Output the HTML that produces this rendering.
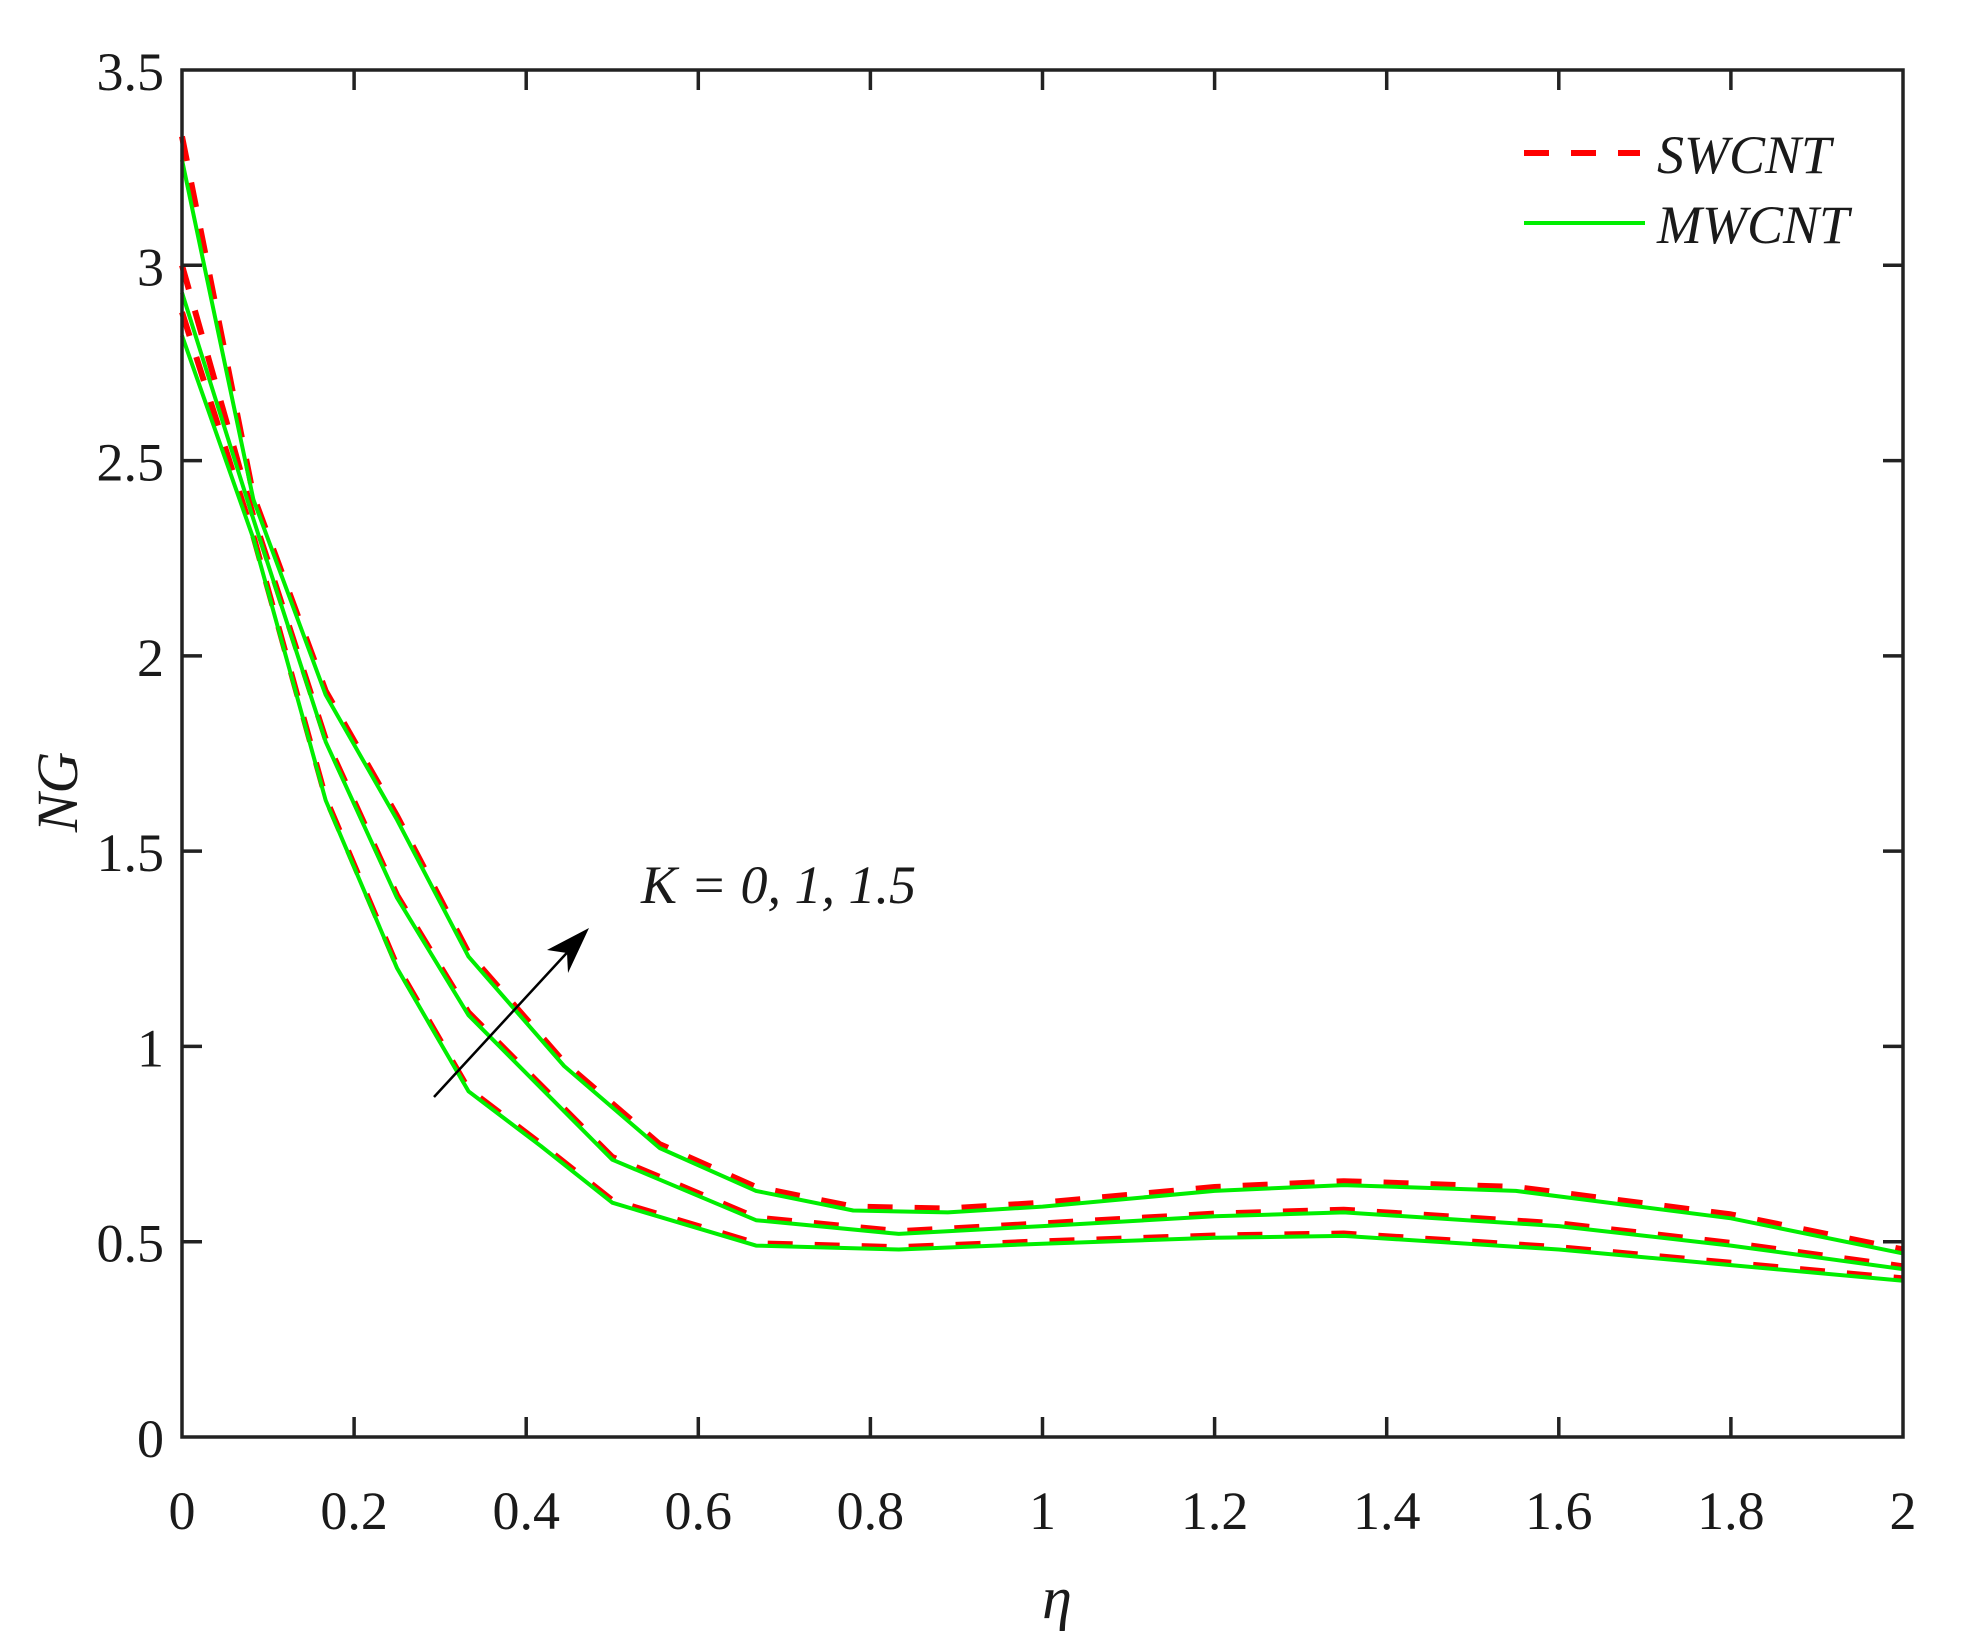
<!DOCTYPE html>
<html><head><meta charset="utf-8"><style>
html,body{margin:0;padding:0;background:#fff;}
svg text{font-family:"Liberation Serif",serif;fill:#1a1a1a;}
</style></head><body>
<svg id="s" width="1964" height="1640" xmlns="http://www.w3.org/2000/svg">
<rect width="1964" height="1640" fill="#fff"/>
<g id="curves"></g>
<g id="axes" stroke="#222" stroke-width="3.5" fill="none"></g>
<g id="labels" font-size="54"></g>
<text x="57" y="792" font-size="58" font-style="italic" text-anchor="middle" transform="rotate(-90 57 792)" dy="20">NG</text>
<text x="1057" y="1618" font-size="60" font-style="italic" text-anchor="middle">η</text>
<line x1="1524" y1="153" x2="1640" y2="153" stroke="#ff0000" stroke-width="6" stroke-dasharray="25,22"/>
<line x1="1524" y1="223" x2="1645" y2="223" stroke="#00ee00" stroke-width="4"/>
<text x="1657" y="173" font-size="54" font-style="italic">SWCNT</text>
<text x="1657" y="243" font-size="54" font-style="italic">MWCNT</text>
<text x="641" y="903" font-size="54" font-style="italic">K = 0, 1, 1.5</text>
<line x1="434" y1="1097" x2="575" y2="944" stroke="#000" stroke-width="2.5"/>
<polygon points="589,928 568,973 567,953 547,950" fill="#000"/>
</svg>
<script>
var X0=182,X1=1903,Y0=1437,Y1=70;
function px(x){return X0+x*(X1-X0)/2;}
function py(y){return Y0-y*(Y0-Y1)/3.5;}
var ns="http://www.w3.org/2000/svg";
function el(t,a,p){var e=document.createElementNS(ns,t);for(var k in a)e.setAttribute(k,a[k]);p.appendChild(e);return e;}
var mw0=[[0,2.82],[0.083,2.30],[0.167,1.63],[0.25,1.20],[0.333,0.885],[0.417,0.745],[0.5,0.60],[0.667,0.49],[0.833,0.48],[1,0.495],[1.2,0.51],[1.35,0.515],[1.6,0.48],[1.8,0.44],[2,0.40]];
var mw1=[[0,2.93],[0.083,2.35],[0.167,1.78],[0.25,1.38],[0.333,1.08],[0.5,0.71],[0.667,0.555],[0.833,0.52],[1,0.54],[1.2,0.565],[1.35,0.575],[1.6,0.54],[1.8,0.49],[2,0.43]];
var mw2=[[0,3.27],[0.083,2.40],[0.167,1.90],[0.25,1.58],[0.333,1.23],[0.444,0.95],[0.555,0.74],[0.667,0.63],[0.78,0.58],[0.89,0.575],[1,0.59],[1.2,0.63],[1.35,0.645],[1.55,0.63],[1.8,0.56],[2,0.47]];
function sw(a,s0,off){return a.map(function(p,i){return [p[0], i==0?s0:p[1]+off];});}
var g=document.getElementById('curves');
function pl(a,c,w,d){var s=a.map(function(p){return px(p[0]).toFixed(1)+','+py(p[1]).toFixed(1);}).join(' ');var o={points:s,fill:'none',stroke:c,'stroke-width':w,'stroke-linejoin':'round'};if(d)o['stroke-dasharray']=d;el('polyline',o,g);}
[[mw0,2.88,0.006],[mw1,3.0,0.007],[mw2,3.33,0.01]].forEach(function(c){pl(sw(c[0],c[1],c[2]),'#ff0000',6,'25,22');});
[mw0,mw1,mw2].forEach(function(c){pl(c,'#00ee00',4);});
var ax=document.getElementById('axes');
el('rect',{x:X0,y:Y1,width:X1-X0,height:Y0-Y1},ax);
var lb=document.getElementById('labels');
for(var i=0;i<=10;i++){var x=px(i*0.2);if(i>0&&i<10){el('line',{x1:x,y1:Y0,x2:x,y2:Y0-20},ax);el('line',{x1:x,y1:Y1,x2:x,y2:Y1+20},ax);}
var t=el('text',{x:x,y:1529,'text-anchor':'middle'},lb);t.textContent=(i==0?'0':i==5?'1':i==10?'2':(i*0.2).toFixed(1));}
for(var j=0;j<=7;j++){var y=py(j*0.5);if(j>0&&j<7){el('line',{x1:X0,y1:y,x2:X0+20,y2:y},ax);el('line',{x1:X1,y1:y,x2:X1-20,y2:y},ax);}
var t=el('text',{x:164,y:y+20,'text-anchor':'end'},lb);t.textContent=(j%2==0?String(j/2):(j*0.5).toFixed(1));}
</script>
</body></html>
